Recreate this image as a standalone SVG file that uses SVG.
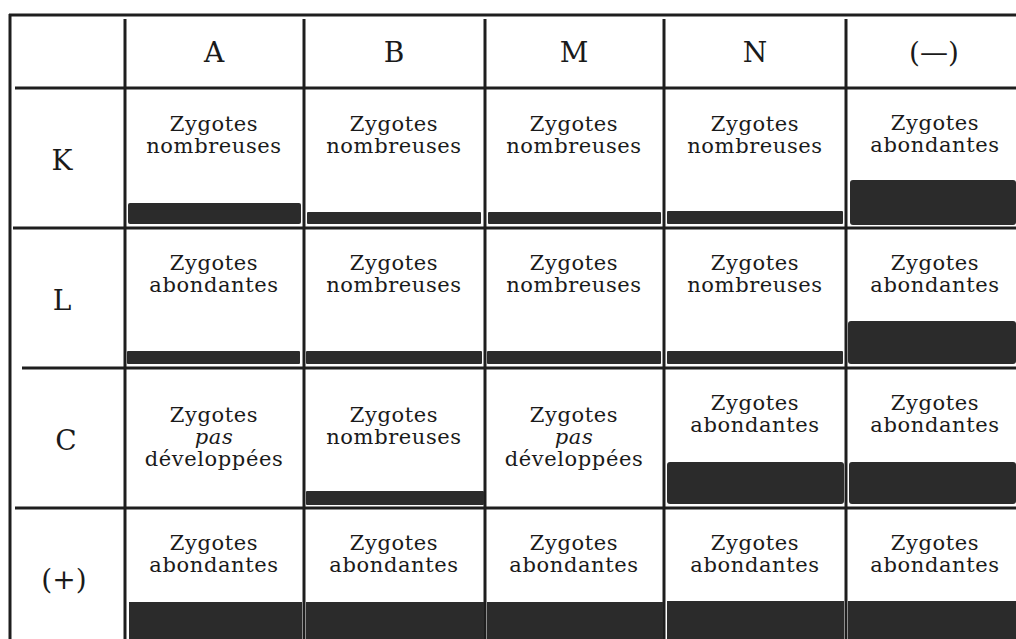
<svg xmlns="http://www.w3.org/2000/svg" width="1016" height="639" viewBox="0 0 1016 639">
<style>
.ln{stroke:#1e1e1e;stroke-width:3;fill:none}
.bar{fill:#2b2b2b}
.t{font-family:"DejaVu Serif","Liberation Serif",serif;font-size:21px;letter-spacing:0.6px;fill:#1a1a1a;text-anchor:middle}
.h{font-family:"DejaVu Serif","Liberation Serif",serif;font-size:28px;fill:#1a1a1a;text-anchor:middle}
.i{font-style:italic}
</style>
<rect width="1016" height="639" fill="#ffffff"/>
<g id="grid">
<line class="ln" x1="9" y1="15" x2="1016" y2="15"/>
<line class="ln" x1="10" y1="14" x2="10" y2="639"/>
<line class="ln" x1="15" y1="88" x2="1016" y2="88"/>
<line class="ln" x1="13" y1="228" x2="1016" y2="228"/>
<line class="ln" x1="22" y1="368" x2="1016" y2="368"/>
<line class="ln" x1="15" y1="508" x2="1016" y2="508"/>
<line class="ln" x1="125" y1="19" x2="125" y2="639"/>
<line class="ln" x1="304" y1="19" x2="304" y2="639"/>
<line class="ln" x1="485" y1="19" x2="485" y2="639"/>
<line class="ln" x1="664" y1="19" x2="664" y2="639"/>
<line class="ln" x1="846" y1="19" x2="846" y2="639"/>
</g>
<g id="headers">
<text class="h" x="214" y="62">A</text>
<text class="h" x="394" y="62">B</text>
<text class="h" x="574" y="62">M</text>
<text class="h" x="755" y="62">N</text>
<text class="h" x="934" y="62">(—)</text>
</g>
<g id="rowlabels">
<text class="h" x="62" y="170">K</text>
<text class="h" x="62" y="310">L</text>
<text class="h" x="66" y="450">C</text>
<text class="h" x="64" y="589">(+)</text>
</g>
<g id="cell-K-A"><rect class="bar" x="128" y="203" width="173" height="21" rx="2"/><text class="t" x="214" y="131">Zygotes</text><text class="t" x="214" y="153">nombreuses</text></g>
<g id="cell-K-B"><rect class="bar" x="307" y="212" width="174" height="12" rx="1"/><text class="t" x="394" y="131">Zygotes</text><text class="t" x="394" y="153">nombreuses</text></g>
<g id="cell-K-M"><rect class="bar" x="488" y="212" width="173" height="12" rx="1"/><text class="t" x="574" y="131">Zygotes</text><text class="t" x="574" y="153">nombreuses</text></g>
<g id="cell-K-N"><rect class="bar" x="667" y="211" width="176" height="13" rx="1"/><text class="t" x="755" y="131">Zygotes</text><text class="t" x="755" y="153">nombreuses</text></g>
<g id="cell-K-neg"><rect class="bar" x="850" y="180" width="166" height="45" rx="3"/><text class="t" x="935" y="130">Zygotes</text><text class="t" x="935" y="152">abondantes</text></g>
<g id="cell-L-A"><rect class="bar" x="127" y="351" width="173" height="13" rx="1"/><text class="t" x="214" y="270">Zygotes</text><text class="t" x="214" y="292">abondantes</text></g>
<g id="cell-L-B"><rect class="bar" x="306" y="351" width="176" height="13" rx="1"/><text class="t" x="394" y="270">Zygotes</text><text class="t" x="394" y="292">nombreuses</text></g>
<g id="cell-L-M"><rect class="bar" x="487" y="351" width="174" height="13" rx="1"/><text class="t" x="574" y="270">Zygotes</text><text class="t" x="574" y="292">nombreuses</text></g>
<g id="cell-L-N"><rect class="bar" x="667" y="351" width="176" height="13" rx="1"/><text class="t" x="755" y="270">Zygotes</text><text class="t" x="755" y="292">nombreuses</text></g>
<g id="cell-L-neg"><rect class="bar" x="848" y="321" width="168" height="43" rx="3"/><text class="t" x="935" y="270">Zygotes</text><text class="t" x="935" y="292">abondantes</text></g>
<g id="cell-C-A"><text class="t" x="214" y="422">Zygotes</text><text class="t i" x="214" y="444">pas</text><text class="t" x="214" y="466">développées</text></g>
<g id="cell-C-B"><rect class="bar" x="306" y="491" width="178" height="14" rx="1"/><text class="t" x="394" y="422">Zygotes</text><text class="t" x="394" y="444">nombreuses</text></g>
<g id="cell-C-M"><text class="t" x="574" y="422">Zygotes</text><text class="t i" x="574" y="444">pas</text><text class="t" x="574" y="466">développées</text></g>
<g id="cell-C-N"><rect class="bar" x="667" y="462" width="177" height="42" rx="3"/><text class="t" x="755" y="410">Zygotes</text><text class="t" x="755" y="432">abondantes</text></g>
<g id="cell-C-neg"><rect class="bar" x="849" y="462" width="167" height="42" rx="3"/><text class="t" x="935" y="410">Zygotes</text><text class="t" x="935" y="432">abondantes</text></g>
<g id="cell-P-A"><rect class="bar" x="129" y="602" width="173" height="37"/><text class="t" x="214" y="550">Zygotes</text><text class="t" x="214" y="572">abondantes</text></g>
<g id="cell-P-B"><rect class="bar" x="306" y="602" width="178" height="37"/><text class="t" x="394" y="550">Zygotes</text><text class="t" x="394" y="572">abondantes</text></g>
<g id="cell-P-M"><rect class="bar" x="487" y="602" width="176" height="37"/><text class="t" x="574" y="550">Zygotes</text><text class="t" x="574" y="572">abondantes</text></g>
<g id="cell-P-N"><rect class="bar" x="667" y="601" width="177" height="38"/><text class="t" x="755" y="550">Zygotes</text><text class="t" x="755" y="572">abondantes</text></g>
<g id="cell-P-neg"><rect class="bar" x="848" y="601" width="168" height="38"/><text class="t" x="935" y="550">Zygotes</text><text class="t" x="935" y="572">abondantes</text></g>
</svg>
